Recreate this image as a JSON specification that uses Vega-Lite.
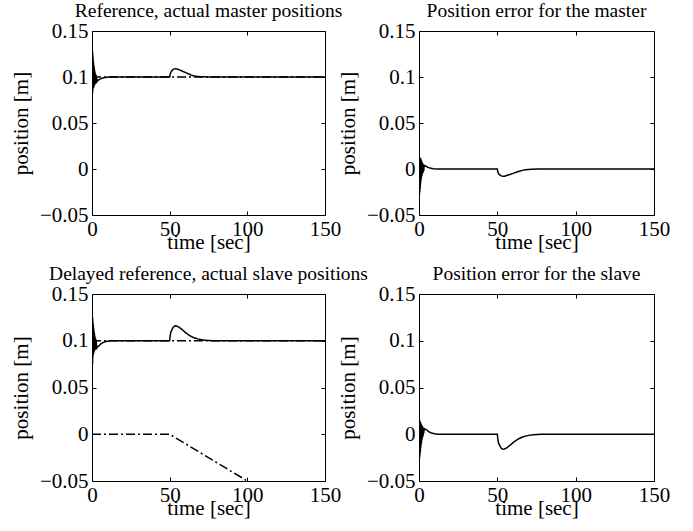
{
 "$schema": "https://vega.github.io/schema/vega-lite/v6.json",
 "background": "white",
 "padding": {"left": 9, "top": 0, "right": 5, "bottom": 5},
 "config": {
   "font": "Liberation Serif",
   "view": {"stroke": "black", "strokeWidth": 1},
   "axis": {"grid": false, "domain": false, "ticks": true, "tickColor": "black", "tickSize": -4, "labelFont": "Liberation Serif", "labelFontSize": 21, "labelColor": "black", "titleFont": "Liberation Serif", "titleFontSize": 21, "titleFontWeight": "normal", "titleColor": "black", "labelPadding": 8, "labelFlush": false},
   "axisX": {"labelPadding": 7, "titlePadding": -8},
   "axisY": {"titlePadding": 8},
   "title": {"font": "Liberation Serif", "fontSize": 19.5, "fontWeight": "normal", "color": "black", "offset": -1},
   "line": {"color": "black", "strokeWidth": 1.5}
 },
 "datasets": {
  "master": [
   {"s":"reference","t":0,"v":0.1},{"s":"reference","t":150,"v":0.1},
   {"s":"actual","t":0,"v":0},{"s":"actual","t":0.05,"v":0.13},{"s":"actual","t":0.15,"v":0.07},{"s":"actual","t":0.25,"v":0.129},{"s":"actual","t":0.35,"v":0.082},{"s":"actual","t":0.45,"v":0.126},{"s":"actual","t":0.55,"v":0.086},{"s":"actual","t":0.65,"v":0.122},{"s":"actual","t":0.75,"v":0.088},{"s":"actual","t":0.85,"v":0.118},{"s":"actual","t":0.95,"v":0.088},{"s":"actual","t":1.05,"v":0.115},{"s":"actual","t":1.15,"v":0.089},{"s":"actual","t":1.25,"v":0.112},{"s":"actual","t":1.35,"v":0.09},{"s":"actual","t":1.45,"v":0.11},{"s":"actual","t":1.55,"v":0.091},{"s":"actual","t":1.65,"v":0.108},{"s":"actual","t":1.75,"v":0.092},{"s":"actual","t":1.85,"v":0.106},{"s":"actual","t":1.95,"v":0.092},{"s":"actual","t":2.1,"v":0.104},{"s":"actual","t":2.25,"v":0.093},{"s":"actual","t":2.4,"v":0.103},{"s":"actual","t":2.55,"v":0.094},{"s":"actual","t":2.7,"v":0.102},{"s":"actual","t":2.85,"v":0.094},{"s":"actual","t":3.0,"v":0.1},{"s":"actual","t":3.2,"v":0.095},{"s":"actual","t":3.6,"v":0.096},{"s":"actual","t":4,"v":0.0965},{"s":"actual","t":5,"v":0.0975},{"s":"actual","t":6,"v":0.0983},{"s":"actual","t":7,"v":0.099},{"s":"actual","t":8,"v":0.0994},{"s":"actual","t":10,"v":0.0998},{"s":"actual","t":12,"v":0.1},{"s":"actual","t":50,"v":0.1},{"s":"actual","t":50.3,"v":0.103},{"s":"actual","t":50.7,"v":0.105},{"s":"actual","t":51.5,"v":0.107},{"s":"actual","t":52.5,"v":0.1085},{"s":"actual","t":53.5,"v":0.109},{"s":"actual","t":54.5,"v":0.1088},{"s":"actual","t":56,"v":0.108},{"s":"actual","t":58,"v":0.1065},{"s":"actual","t":60,"v":0.105},{"s":"actual","t":62,"v":0.1035},{"s":"actual","t":64,"v":0.102},{"s":"actual","t":66,"v":0.101},{"s":"actual","t":68,"v":0.1005},{"s":"actual","t":72,"v":0.1002},{"s":"actual","t":76,"v":0.1},{"s":"actual","t":150,"v":0.1}
  ],
  "mastererr": [
   {"s":"error","t":0,"v":0.1},{"s":"error","t":0.03,"v":0.03},{"s":"error","t":0.1,"v":-0.035},{"s":"error","t":0.2,"v":0.012},{"s":"error","t":0.3,"v":-0.028},{"s":"error","t":0.4,"v":0.013},{"s":"error","t":0.5,"v":-0.025},{"s":"error","t":0.6,"v":0.012},{"s":"error","t":0.7,"v":-0.022},{"s":"error","t":0.8,"v":0.012},{"s":"error","t":0.9,"v":-0.018},{"s":"error","t":1.0,"v":0.011},{"s":"error","t":1.1,"v":-0.015},{"s":"error","t":1.2,"v":0.011},{"s":"error","t":1.3,"v":-0.012},{"s":"error","t":1.4,"v":0.01},{"s":"error","t":1.5,"v":-0.01},{"s":"error","t":1.6,"v":0.009},{"s":"error","t":1.7,"v":-0.008},{"s":"error","t":1.8,"v":0.008},{"s":"error","t":1.9,"v":-0.007},{"s":"error","t":2.0,"v":0.007},{"s":"error","t":2.2,"v":-0.005},{"s":"error","t":2.4,"v":0.006},{"s":"error","t":2.6,"v":-0.004},{"s":"error","t":2.8,"v":0.005},{"s":"error","t":3.0,"v":-0.002},{"s":"error","t":3.3,"v":0.004},{"s":"error","t":3.8,"v":0.0035},{"s":"error","t":4.5,"v":0.003},{"s":"error","t":5.5,"v":0.002},{"s":"error","t":7,"v":0.001},{"s":"error","t":9,"v":0.0004},{"s":"error","t":12,"v":0},{"s":"error","t":50,"v":0},{"s":"error","t":50.3,"v":-0.003},{"s":"error","t":50.7,"v":-0.005},{"s":"error","t":51.5,"v":-0.0065},{"s":"error","t":52.5,"v":-0.0075},{"s":"error","t":53.5,"v":-0.008},{"s":"error","t":54.5,"v":-0.0078},{"s":"error","t":56,"v":-0.007},{"s":"error","t":58,"v":-0.006},{"s":"error","t":60,"v":-0.0048},{"s":"error","t":62,"v":-0.0035},{"s":"error","t":64,"v":-0.0025},{"s":"error","t":66,"v":-0.0015},{"s":"error","t":68,"v":-0.0008},{"s":"error","t":72,"v":-0.0003},{"s":"error","t":76,"v":0},{"s":"error","t":150,"v":0}
  ],
  "slave": [
   {"s":"reference","t":0,"v":0.1},{"s":"reference","t":150,"v":0.1},
   {"s":"delayed","t":0,"v":0},{"s":"delayed","t":50,"v":0},{"s":"delayed","t":100,"v":-0.05},
   {"s":"actual","t":0,"v":0},{"s":"actual","t":0.05,"v":0.127},{"s":"actual","t":0.15,"v":0.06},{"s":"actual","t":0.25,"v":0.126},{"s":"actual","t":0.35,"v":0.075},{"s":"actual","t":0.45,"v":0.124},{"s":"actual","t":0.55,"v":0.082},{"s":"actual","t":0.65,"v":0.12},{"s":"actual","t":0.75,"v":0.085},{"s":"actual","t":0.85,"v":0.117},{"s":"actual","t":0.95,"v":0.086},{"s":"actual","t":1.05,"v":0.114},{"s":"actual","t":1.15,"v":0.087},{"s":"actual","t":1.25,"v":0.111},{"s":"actual","t":1.35,"v":0.088},{"s":"actual","t":1.45,"v":0.109},{"s":"actual","t":1.55,"v":0.089},{"s":"actual","t":1.65,"v":0.107},{"s":"actual","t":1.75,"v":0.09},{"s":"actual","t":1.85,"v":0.105},{"s":"actual","t":1.95,"v":0.09},{"s":"actual","t":2.1,"v":0.103},{"s":"actual","t":2.25,"v":0.091},{"s":"actual","t":2.4,"v":0.102},{"s":"actual","t":2.55,"v":0.092},{"s":"actual","t":2.7,"v":0.1},{"s":"actual","t":3.0,"v":0.092},{"s":"actual","t":3.5,"v":0.093},{"s":"actual","t":4,"v":0.094},{"s":"actual","t":5,"v":0.0955},{"s":"actual","t":6,"v":0.097},{"s":"actual","t":7,"v":0.098},{"s":"actual","t":8,"v":0.0987},{"s":"actual","t":10,"v":0.0995},{"s":"actual","t":12,"v":0.0999},{"s":"actual","t":14,"v":0.1},{"s":"actual","t":50,"v":0.1},{"s":"actual","t":50.3,"v":0.105},{"s":"actual","t":50.7,"v":0.109},{"s":"actual","t":51.5,"v":0.112},{"s":"actual","t":52.5,"v":0.115},{"s":"actual","t":53.5,"v":0.116},{"s":"actual","t":54.5,"v":0.1158},{"s":"actual","t":56,"v":0.1145},{"s":"actual","t":58,"v":0.112},{"s":"actual","t":60,"v":0.109},{"s":"actual","t":62,"v":0.1065},{"s":"actual","t":64,"v":0.1045},{"s":"actual","t":66,"v":0.103},{"s":"actual","t":68,"v":0.102},{"s":"actual","t":70,"v":0.1012},{"s":"actual","t":73,"v":0.1005},{"s":"actual","t":78,"v":0.1},{"s":"actual","t":150,"v":0.1}
  ],
  "slaveerr": [
   {"s":"error","t":0,"v":0.1},{"s":"error","t":0.03,"v":0.03},{"s":"error","t":0.1,"v":-0.028},{"s":"error","t":0.2,"v":0.014},{"s":"error","t":0.3,"v":-0.026},{"s":"error","t":0.4,"v":0.015},{"s":"error","t":0.5,"v":-0.024},{"s":"error","t":0.6,"v":0.014},{"s":"error","t":0.7,"v":-0.021},{"s":"error","t":0.8,"v":0.013},{"s":"error","t":0.9,"v":-0.018},{"s":"error","t":1.0,"v":0.012},{"s":"error","t":1.1,"v":-0.015},{"s":"error","t":1.2,"v":0.012},{"s":"error","t":1.3,"v":-0.012},{"s":"error","t":1.4,"v":0.011},{"s":"error","t":1.5,"v":-0.01},{"s":"error","t":1.6,"v":0.01},{"s":"error","t":1.7,"v":-0.008},{"s":"error","t":1.8,"v":0.009},{"s":"error","t":1.9,"v":-0.006},{"s":"error","t":2.0,"v":0.009},{"s":"error","t":2.2,"v":-0.004},{"s":"error","t":2.4,"v":0.008},{"s":"error","t":2.6,"v":-0.002},{"s":"error","t":2.8,"v":0.007},{"s":"error","t":3.0,"v":0.001},{"s":"error","t":3.3,"v":0.006},{"s":"error","t":4,"v":0.0055},{"s":"error","t":5,"v":0.0045},{"s":"error","t":6,"v":0.003},{"s":"error","t":7,"v":0.002},{"s":"error","t":8,"v":0.0013},{"s":"error","t":10,"v":0.0005},{"s":"error","t":12,"v":0.0001},{"s":"error","t":14,"v":0},{"s":"error","t":50,"v":0},{"s":"error","t":50.3,"v":-0.005},{"s":"error","t":50.7,"v":-0.009},{"s":"error","t":51.5,"v":-0.012},{"s":"error","t":52.5,"v":-0.015},{"s":"error","t":53.5,"v":-0.016},{"s":"error","t":54.5,"v":-0.0158},{"s":"error","t":56,"v":-0.0145},{"s":"error","t":58,"v":-0.012},{"s":"error","t":60,"v":-0.009},{"s":"error","t":62,"v":-0.0065},{"s":"error","t":64,"v":-0.0045},{"s":"error","t":66,"v":-0.003},{"s":"error","t":68,"v":-0.002},{"s":"error","t":70,"v":-0.0012},{"s":"error","t":73,"v":-0.0005},{"s":"error","t":78,"v":0},{"s":"error","t":150,"v":0}
  ]
 },
 "columns": 2,
 "spacing": {"row": 79, "column": 94},
 "bounds": "flush",
 "concat": [
  {
   "title": "Reference, actual master positions",
   "width": 233, "height": 184,
   "data": {"name": "master"},
   "layer": [
    {"mark": {"type": "line", "clip": true},
     "encoding": {
      "x": {"field": "t", "type": "quantitative", "scale": {"domain": [0, 150], "nice": false}, "axis": {"values": [0, 50, 100, 150], "format": "d", "title": "time [sec]"}},
      "y": {"field": "v", "type": "quantitative", "scale": {"domain": [-0.05, 0.15], "nice": false, "zero": false}, "axis": {"values": [-0.05, 0, 0.05, 0.1, 0.15], "format": ".3~g", "title": "position [m]"}},
      "detail": {"field": "s"},
      "strokeDash": {"field": "s", "type": "nominal", "scale": {"domain": ["reference", "actual", "delayed"], "range": [[9, 3, 2, 3], [1, 0], [9, 3, 2, 3]]}, "legend": null}
     }},
    {"mark": {"type": "line", "opacity": 0},
     "encoding": {
      "x": {"field": "t", "type": "quantitative", "axis": {"orient": "top", "values": [0, 50, 100, 150], "labels": false, "title": null}},
      "y": {"field": "v", "type": "quantitative", "axis": {"orient": "right", "values": [-0.05, 0, 0.05, 0.1, 0.15], "labels": false, "title": null}}
     }}
   ],
   "resolve": {"axis": {"x": "independent", "y": "independent"}}
  },
  {
   "title": "Position error for the master",
   "width": 235, "height": 184,
   "data": {"name": "mastererr"},
   "layer": [
    {"mark": {"type": "line", "clip": true},
     "encoding": {
      "x": {"field": "t", "type": "quantitative", "scale": {"domain": [0, 150], "nice": false}, "axis": {"values": [0, 50, 100, 150], "format": "d", "title": "time [sec]"}},
      "y": {"field": "v", "type": "quantitative", "scale": {"domain": [-0.05, 0.15], "nice": false, "zero": false}, "axis": {"values": [-0.05, 0, 0.05, 0.1, 0.15], "format": ".3~g", "title": "position [m]"}}
     }},
    {"mark": {"type": "line", "opacity": 0},
     "encoding": {
      "x": {"field": "t", "type": "quantitative", "axis": {"orient": "top", "values": [0, 50, 100, 150], "labels": false, "title": null}},
      "y": {"field": "v", "type": "quantitative", "axis": {"orient": "right", "values": [-0.05, 0, 0.05, 0.1, 0.15], "labels": false, "title": null}}
     }}
   ],
   "resolve": {"axis": {"x": "independent", "y": "independent"}}
  },
  {
   "title": "Delayed reference, actual slave positions",
   "width": 233, "height": 187,
   "data": {"name": "slave"},
   "layer": [
    {"mark": {"type": "line", "clip": true},
     "encoding": {
      "x": {"field": "t", "type": "quantitative", "scale": {"domain": [0, 150], "nice": false}, "axis": {"values": [0, 50, 100, 150], "format": "d", "title": "time [sec]"}},
      "y": {"field": "v", "type": "quantitative", "scale": {"domain": [-0.05, 0.15], "nice": false, "zero": false}, "axis": {"values": [-0.05, 0, 0.05, 0.1, 0.15], "format": ".3~g", "title": "position [m]"}},
      "detail": {"field": "s"},
      "strokeDash": {"field": "s", "type": "nominal", "scale": {"domain": ["reference", "actual", "delayed"], "range": [[9, 3, 2, 3], [1, 0], [9, 3, 2, 3]]}, "legend": null}
     }},
    {"mark": {"type": "line", "opacity": 0},
     "encoding": {
      "x": {"field": "t", "type": "quantitative", "axis": {"orient": "top", "values": [0, 50, 100, 150], "labels": false, "title": null}},
      "y": {"field": "v", "type": "quantitative", "axis": {"orient": "right", "values": [-0.05, 0, 0.05, 0.1, 0.15], "labels": false, "title": null}}
     }}
   ],
   "resolve": {"axis": {"x": "independent", "y": "independent"}}
  },
  {
   "title": "Position error for the slave",
   "width": 235, "height": 187,
   "data": {"name": "slaveerr"},
   "layer": [
    {"mark": {"type": "line", "clip": true},
     "encoding": {
      "x": {"field": "t", "type": "quantitative", "scale": {"domain": [0, 150], "nice": false}, "axis": {"values": [0, 50, 100, 150], "format": "d", "title": "time [sec]"}},
      "y": {"field": "v", "type": "quantitative", "scale": {"domain": [-0.05, 0.15], "nice": false, "zero": false}, "axis": {"values": [-0.05, 0, 0.05, 0.1, 0.15], "format": ".3~g", "title": "position [m]"}}
     }},
    {"mark": {"type": "line", "opacity": 0},
     "encoding": {
      "x": {"field": "t", "type": "quantitative", "axis": {"orient": "top", "values": [0, 50, 100, 150], "labels": false, "title": null}},
      "y": {"field": "v", "type": "quantitative", "axis": {"orient": "right", "values": [-0.05, 0, 0.05, 0.1, 0.15], "labels": false, "title": null}}
     }}
   ],
   "resolve": {"axis": {"x": "independent", "y": "independent"}}
  }
 ]
}
